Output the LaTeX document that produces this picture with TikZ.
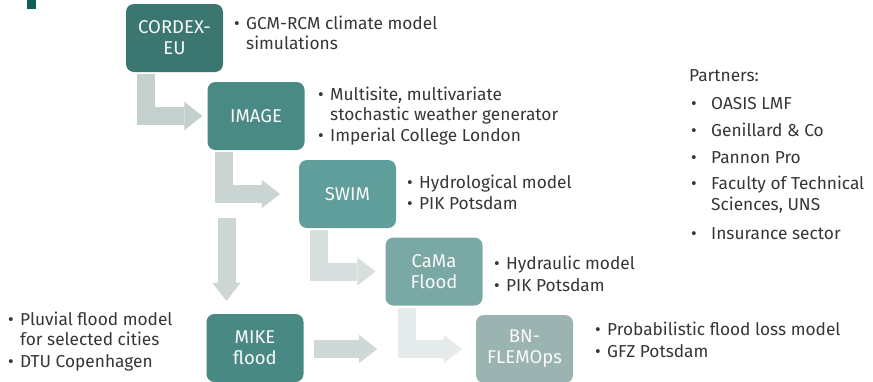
\documentclass[tikz,border=0pt]{standalone}
\usepackage{fontspec}
\setmainfont{Fira Sans}
\usetikzlibrary{positioning, calc, arrows.meta}
\definecolor{topcol}{HTML}{0D5E54}
\definecolor{cordexcol}{HTML}{3B7671}
\definecolor{imagecol}{HTML}{4A8A85}
\definecolor{swimcol}{HTML}{5F9E9A}
\definecolor{camacol}{HTML}{7AA8A4}
\definecolor{mikecol}{HTML}{488983}
\definecolor{bncol}{HTML}{9BB4B2}
\definecolor{arr1}{HTML}{C3D0CD}
\definecolor{arr2}{HTML}{CAD5D3}
\definecolor{arr3}{HTML}{D6DFDD}
\definecolor{arr4}{HTML}{E5EBEA}
\definecolor{arr5}{HTML}{CCD6D4}
\definecolor{arr6}{HTML}{CED8D6}
\definecolor{textgray}{HTML}{363636}
\tikzset{box/.style={rounded corners=8pt, fill=#1, text=white!95!gray, minimum width=97pt,
    minimum height=68pt, align=center, font=\fontsize{18.5}{21}\selectfont, inner sep=0pt},
  desc/.style={anchor=base west, align=left, text=textgray, font=\fontsize{17.3}{20}\selectfont, inner sep=0pt},
  flow/.style={draw=#1, line width=18pt, line join=miter,
    -{Triangle[length=18pt 0, width=28pt 0, line width=0.1pt 0]}}}
\newcommand\bul{\makebox[12pt][l]{\textbullet}}
\newcommand\ind{\hspace*{12pt}}
\newcommand\pbul{\hspace*{2pt}\makebox[20pt][l]{\textbullet}}
\newcommand\pind{\hspace*{22pt}}
\begin{document}
\begin{tikzpicture}[x=1pt, y=-1pt]
  \fill[white] (0,0) rectangle (873,381);
  \useasboundingbox (0,0) rectangle (873,381);
  \fill[topcol] (27,0) rectangle (36,9);
  \foreach \n/\x/\y/\c/\t in {cordex/174.5/38/cordexcol/{CORDEX-\\EU}, image/256/116/imagecol/IMAGE,
    swim/347.5/194/swimcol/SWIM, cama/434/271.5/camacol/{CaMa\\Flood},
    mike/255/348/mikecol/{MIKE\\flood}, bn/524.5/349/bncol/{BN-\\FLEMOps}} {
    \node[box=\c] (\n) at (\x,\y) {\t};
  }
  \foreach \a/\b/\dx/\gap/\c in {cordex/image/20/5/arr1, image/swim/16.5/19/arr2,
    swim/cama/20/10/arr3, cama/bn/21.5/14/arr4} {
    \draw[flow=\c, shorten >=\gap pt] ($(\a.south west)+(\dx,2)$) |- (\b.west);
  }
  \coordinate (drop) at (226.5,218);
  \draw[flow=arr5, shorten >=13pt] (drop) -- (drop |- mike.north);
  \coordinate (merge) at (377,349);
  \draw[flow=arr6] ($(mike.east)+(10,1)$) -- (merge);
  \node[desc] (cordextxt) at (234,49) {\bul GCM-RCM climate model\\\ind simulations};
  \node[desc] (imagetxt) at (318,141) {\bul Multisite, multivariate\\\ind stochastic weather generator\\[1pt]\bul Imperial College London};
  \node[desc] (swimtxt) at (407,209) {\bul Hydrological model\\[1pt]\bul PIK Potsdam};
  \node[desc] (camatxt) at (494,291) {\bul Hydraulic model\\[2pt]\bul PIK Potsdam};
  \node[desc] (bntxt) at (595,357) {\bul Probabilistic flood loss model\\[2pt]\bul GFZ Potsdam};
  \node[desc] (miketxt) at (8,367) {\bul Pluvial flood model\\\ind for selected cities\\[2pt]\bul DTU Copenhagen};
  \node[desc] (partners) at (689,239) {Partners:\\[8pt]\pbul OASIS LMF\\[7pt]\pbul Genillard \& Co\\[7pt]\pbul Pannon Pro\\[6pt]\pbul Faculty of Technical\\[1pt]\pind Sciences, UNS\\[9pt]\pbul Insurance sector};
\end{tikzpicture}
\end{document}
